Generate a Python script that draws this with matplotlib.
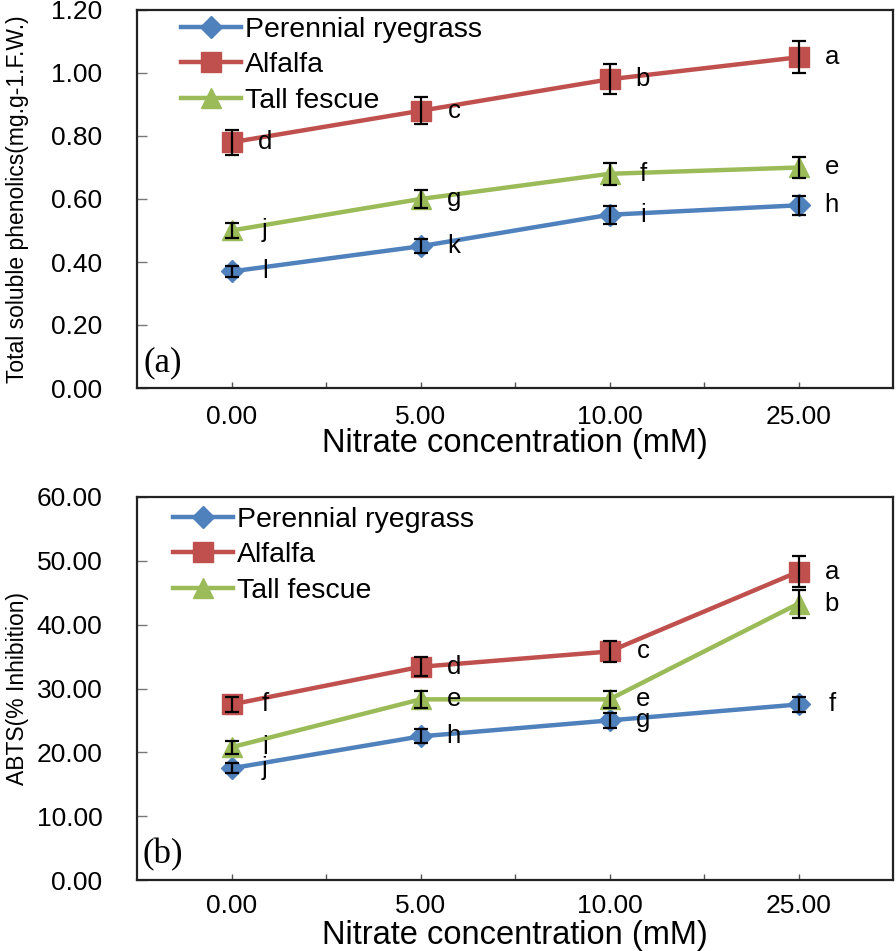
import matplotlib
matplotlib.use("Agg")
import matplotlib.pyplot as plt
from matplotlib.ticker import FixedLocator, NullFormatter

plt.rcParams['font.family'] = ['Liberation Sans', 'DejaVu Sans']

# ---------------- data ----------------
categories = ["0.00", "5.00", "10.00", "25.00"]
series_names = ["Perennial ryegrass", "Alfalfa", "Tall fescue"]

# Panel (a): total soluble phenolics
phen_ryegrass = [0.37, 0.45, 0.55, 0.58]
phen_alfalfa = [0.78, 0.88, 0.98, 1.05]
phen_fescue = [0.50, 0.60, 0.68, 0.70]
phen_err_ryegrass = [0.017, 0.022, 0.028, 0.030]
phen_err_alfalfa = [0.040, 0.043, 0.048, 0.050]
phen_err_fescue = [0.025, 0.030, 0.035, 0.033]
phen_let_ryegrass = ["l", "k", "i", "h"]
phen_let_alfalfa = ["d", "c", "b", "a"]
phen_let_fescue = ["j", "g", "f", "e"]

# Panel (b): ABTS (% inhibition)
abts_ryegrass = [17.5, 22.5, 25.0, 27.5]
abts_alfalfa = [27.5, 33.4, 35.8, 48.3]
abts_fescue = [20.8, 28.3, 28.3, 43.3]
abts_err_ryegrass = [0.8, 1.1, 1.2, 1.2]
abts_err_alfalfa = [1.2, 1.5, 1.7, 2.4]
abts_err_fescue = [1.0, 1.3, 1.3, 2.2]
abts_let_ryegrass = ["j", "h", "g", "f"]
abts_let_alfalfa = ["f", "d", "c", "a"]
abts_let_fescue = ["i", "e", "e", "b"]

colors = ["#4F81BD", "#C0504D", "#9BBB59"]
markers = ["D", "s", "^"]
msizes = [11.5, 15, 15]

fig = plt.figure(figsize=(8.96, 9.51), dpi=100)
W, H = 896, 951


def px_axes(left, top, right, bottom):
    return fig.add_axes([left / W, 1 - bottom / H, (right - left) / W, (bottom - top) / H])


ax1 = px_axes(137, 10, 893, 388)
ax2 = px_axes(137, 497, 893, 880)

x = [i + 0.5 for i in range(len(categories))]


def draw(ax, vals, errs, lets, ylim, yticks, ylabel, panel, leg_anchor, xpad):
    for name, v, e, l, c, m, ms in zip(series_names, vals, errs, lets, colors, markers, msizes):
        ax.plot(x, v, color=c, lw=3.2, marker=m, markersize=ms,
                markeredgecolor=c, label=name, zorder=3)
        ax.errorbar(x, v, yerr=e, fmt='none', ecolor='black', elinewidth=1.6,
                    capsize=5, capthick=1.6, zorder=4)
        for xi, yi, t in zip(x, v, l):
            ax.annotate(t, (xi, yi), xytext=(24, 0), textcoords='offset points',
                        ha='center', va='center', fontsize=18.5, color='black', zorder=5)
    ax.set_xlim(0, len(categories))
    ax.set_ylim(*ylim)
    ax.xaxis.set_major_locator(FixedLocator(x))
    ax.set_xticklabels(categories)
    ax.xaxis.set_minor_locator(FixedLocator([1, 2, 3]))
    ax.xaxis.set_minor_formatter(NullFormatter())
    ax.set_yticks(yticks)
    ax.set_yticklabels([f"{t:.2f}" for t in yticks])
    ax.tick_params(axis='x', which='both', direction='in', length=4.5, width=1.0,
                   color='#555555', labelsize=19, pad=xpad, top=False)
    ax.tick_params(axis='y', which='both', direction='in', length=7, width=1.0,
                   color='#777777', labelsize=19, pad=25, right=False)
    for s in ax.spines.values():
        s.set_linewidth(1.6)
        s.set_color('#222222')
    ax.set_xlabel("Nitrate concentration (mM)", fontsize=23.5)
    ax.xaxis.label.set_va('center')
    ax.set_ylabel(ylabel, fontsize=16.5)
    ax.yaxis.label.set_va('center')
    ax.yaxis.set_label_coords(-0.158, 0.5)
    ax.text(0.034, 0.066, panel, transform=ax.transAxes, ha='center', va='center',
            fontsize=25, family='Liberation Serif')
    ax.legend(loc='upper left', bbox_to_anchor=leg_anchor, frameon=False,
              fontsize=20.5, handlelength=2.1, handletextpad=0.15, labelspacing=0.33,
              borderpad=0, borderaxespad=0, markerscale=1.0)


draw(ax1, [phen_ryegrass, phen_alfalfa, phen_fescue],
     [phen_err_ryegrass, phen_err_alfalfa, phen_err_fescue],
     [phen_let_ryegrass, phen_let_alfalfa, phen_let_fescue],
     (0, 1.2), [0, 0.2, 0.4, 0.6, 0.8, 1.0, 1.2],
     "Total soluble phenolics(mg.g-1.F.W.)", "(a)", (0.058, 0.982), 12)
ax1.xaxis.set_label_coords(0.5, -0.148)

draw(ax2, [abts_ryegrass, abts_alfalfa, abts_fescue],
     [abts_err_ryegrass, abts_err_alfalfa, abts_err_fescue],
     [abts_let_ryegrass, abts_let_alfalfa, abts_let_fescue],
     (0, 60), [0, 10, 20, 30, 40, 50, 60],
     "ABTS(% Inhibition)", "(b)", (0.048, 0.974), 10)
ax2.xaxis.set_label_coords(0.5, -0.146)

fig.savefig("out.png", dpi=100, facecolor='white')
